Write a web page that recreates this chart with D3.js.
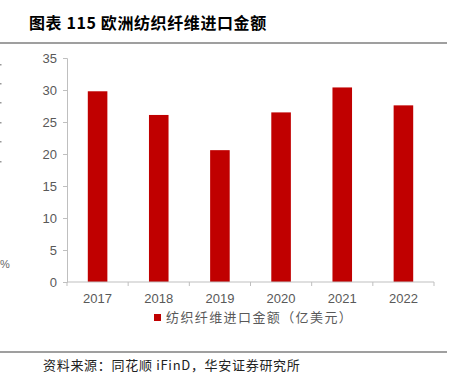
<!DOCTYPE html>
<html>
<head>
<meta charset="utf-8">
<title>欧洲纺织纤维进口金额</title>
<script src="https://cdn.jsdelivr.net/npm/d3@7/dist/d3.min.js"></script>
<style>
  body { margin: 0; background: #fff; }
  svg { display: block; }
</style>
</head>
<body>
<svg id="chart"></svg>
<script>
// data
var years = ["2017", "2018", "2019", "2020", "2021", "2022"];
var values = [29.8, 26.1, 20.6, 26.5, 30.4, 27.6];
var yTicks = [0, 5, 10, 15, 20, 25, 30, 35];

var width = 455, height = 387;
var cjk = "'Noto Sans CJK SC', 'Noto Sans', sans-serif";
var latin = "'Liberation Sans', Arial, sans-serif";

var svg = d3.select("#chart").attr("width", width).attr("height", height);

// title + rules
svg.append("text")
    .attr("x", 29).attr("y", 29)
    .attr("font-family", cjk).attr("font-weight", "bold")
    .attr("font-size", 16).attr("letter-spacing", 0.6)
    .attr("fill", "#000")
    .text("图表 115 欧洲纺织纤维进口金额");

svg.append("line").attr("x1", 0).attr("x2", 447).attr("y1", 43).attr("y2", 43)
    .attr("stroke", "#7f7f7f").attr("stroke-width", 1.5);
svg.append("line").attr("x1", 0).attr("x2", 447).attr("y1", 352).attr("y2", 352)
    .attr("stroke", "#7f7f7f").attr("stroke-width", 1.5);

svg.append("text")
    .attr("x", 43).attr("y", 369.5)
    .attr("font-family", cjk).attr("font-size", 13).attr("letter-spacing", 0.7)
    .attr("fill", "#222")
    .text("资料来源：同花顺 iFinD，华安证券研究所");

// leftover bits of the neighbouring chart at the left edge
[64, 83, 102, 122, 141, 161].forEach(function(y) {
    svg.append("rect").attr("x", 0).attr("y", y).attr("width", 1.5).attr("height", 1.5).attr("fill", "#999");
});
svg.append("text").attr("x", 0).attr("y", 268)
    .attr("font-family", latin).attr("font-size", 11).attr("fill", "#666").text("%");

// scales
var x = d3.scaleBand().domain(years).range([67, 434]).paddingInner(0.68).paddingOuter(0.34);
var y = d3.scaleLinear().domain([0, 35]).range([282, 58]);

var g = svg.append("g");

// y axis
var yAxis = g.append("g").attr("transform", "translate(67,0)")
    .call(d3.axisLeft(y).tickValues(yTicks).tickSize(4).tickPadding(6));
yAxis.select(".domain").attr("stroke", "#bfbfbf");
yAxis.selectAll(".tick line").attr("stroke", "#bfbfbf");
yAxis.selectAll("text").attr("font-family", latin).attr("font-size", 13).attr("fill", "#595959");

// bars
g.selectAll("rect.bar").data(values).enter().append("rect")
    .attr("class", "bar")
    .attr("x", function(d, i) { return x(years[i]); })
    .attr("width", x.bandwidth())
    .attr("y", function(d) { return y(d); })
    .attr("height", function(d) { return y(0) - y(d); })
    .attr("fill", "#c00000");

// x axis, ticks between categories
var xAxis = g.append("g").attr("transform", "translate(0,282)");
xAxis.append("line").attr("x1", 67).attr("x2", 434).attr("stroke", "#bfbfbf");
d3.range(years.length + 1).forEach(function(i) {
    var px = 67 + i * (367 / years.length);
    xAxis.append("line").attr("x1", px).attr("x2", px).attr("y1", 0).attr("y2", 4).attr("stroke", "#bfbfbf");
});
xAxis.selectAll("text").data(years).enter().append("text")
    .attr("x", function(d) { return x(d) + x.bandwidth() / 2; })
    .attr("y", 21)
    .attr("text-anchor", "middle")
    .attr("font-family", latin).attr("font-size", 13).attr("fill", "#595959")
    .text(function(d) { return d; });

// legend
svg.append("rect").attr("x", 154).attr("y", 314).attr("width", 7).attr("height", 7).attr("fill", "#c00000");
svg.append("text").attr("x", 166).attr("y", 322)
    .attr("font-family", cjk).attr("font-size", 13).attr("letter-spacing", 1.4)
    .attr("fill", "#595959")
    .text("纺织纤维进口金额（亿美元）");
</script>
</body>
</html>
